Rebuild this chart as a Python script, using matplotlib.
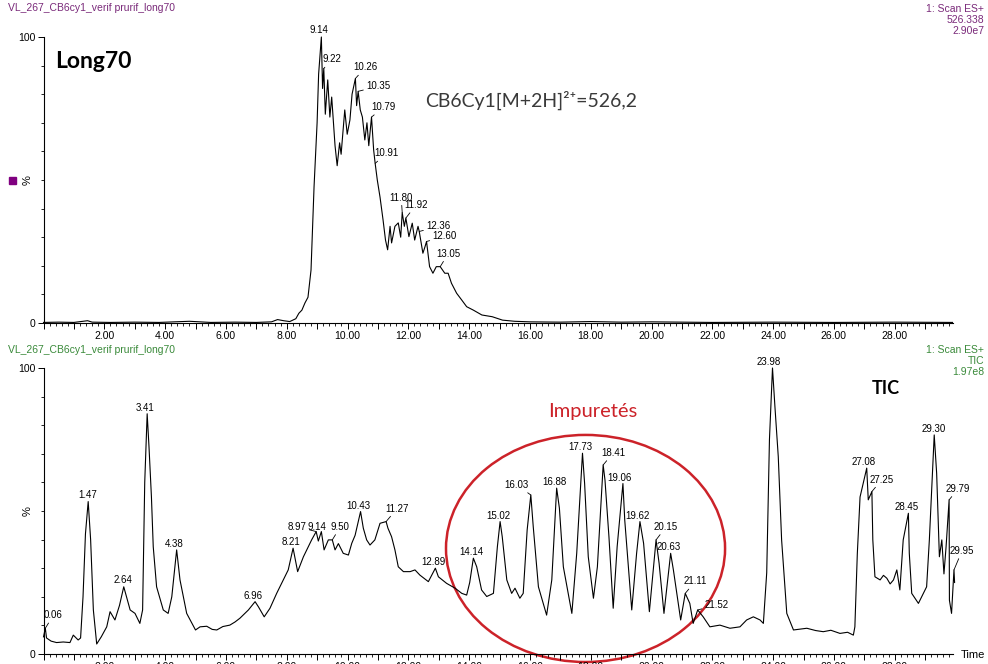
import matplotlib
matplotlib.use('Agg')
import matplotlib.pyplot as plt
from matplotlib.patches import Ellipse, Rectangle
from matplotlib.ticker import MultipleLocator, FixedLocator, FuncFormatter

# ---- data (retention time in min, intensity in %) ----
top_time = [
    0.0, 0.5, 1.0, 1.45, 1.6, 2.2, 3.0, 3.8, 4.8, 5.5,
    6.3, 7.0, 7.5, 7.7, 7.9, 8.1, 8.3, 8.4, 8.5, 8.6,
    8.7, 8.8, 8.9, 9.0, 9.05, 9.14, 9.18, 9.22, 9.27, 9.35,
    9.42, 9.48, 9.59, 9.66, 9.74, 9.79, 9.91, 9.99, 10.08, 10.15,
    10.26, 10.30, 10.35, 10.42, 10.49, 10.57, 10.64, 10.70, 10.79, 10.86,
    10.91, 10.98, 11.07, 11.17, 11.25, 11.32, 11.40, 11.45, 11.56, 11.67,
    11.75, 11.80, 11.87, 11.92, 12.02, 12.13, 12.21, 12.32, 12.36, 12.48,
    12.55, 12.60, 12.70, 12.81, 12.92, 13.05, 13.20, 13.31, 13.42, 13.59,
    13.76, 13.92, 14.14, 14.42, 14.76, 15.1, 15.5, 16.0, 17.0, 18.0,
    19.0, 20.0, 22.0, 24.0, 26.0, 28.0, 29.9]
top_pct = [
    0.2, 0.3, 0.2, 0.8, 0.3, 0.2, 0.3, 0.2, 0.6, 0.2,
    0.3, 0.2, 0.4, 1.2, 0.8, 0.5, 1.5, 3.4, 4.5, 7.0,
    9.0, 18.5, 47.7, 70.0, 87.0, 100.0, 82.0, 89.0, 73.0, 85.0,
    72.0, 79.0, 62.0, 55.0, 63.0, 59.0, 74.5, 66.0, 71.0, 80.0,
    85.5, 76.0, 81.0, 74.5, 72.0, 64.0, 70.0, 62.0, 72.0, 60.5,
    55.8, 50.0, 44.0, 36.0, 29.0, 25.6, 33.8, 28.0, 33.8, 35.0,
    30.0, 38.6, 33.8, 36.7, 30.2, 34.9, 29.0, 33.8, 32.0, 24.4,
    26.7, 28.5, 19.7, 17.4, 19.7, 19.7, 17.4, 17.4, 13.9, 10.4,
    8.0, 5.7, 4.5, 2.8, 2.2, 1.0, 0.6, 0.4, 0.3, 0.5,
    0.3, 0.4, 0.2, 0.3, 0.2, 0.3, 0.2]

tic_time = [
    0.0, 0.06, 0.10, 0.25, 0.43, 0.65, 0.87, 0.98, 1.14, 1.22,
    1.30, 1.38, 1.47, 1.55, 1.64, 1.75, 1.90, 2.08, 2.19, 2.35,
    2.50, 2.64, 2.85, 3.01, 3.17, 3.26, 3.33, 3.41, 3.47, 3.55,
    3.61, 3.72, 3.94, 4.10, 4.22, 4.38, 4.49, 4.71, 5.00, 5.15,
    5.37, 5.55, 5.70, 5.90, 6.13, 6.30, 6.46, 6.74, 6.96, 7.07,
    7.26, 7.45, 7.67, 7.89, 8.05, 8.21, 8.36, 8.55, 8.82, 8.97,
    9.04, 9.14, 9.23, 9.37, 9.50, 9.59, 9.70, 9.86, 10.03, 10.14,
    10.25, 10.43, 10.52, 10.63, 10.74, 10.90, 11.07, 11.27, 11.33, 11.45,
    11.56, 11.67, 11.84, 12.06, 12.22, 12.38, 12.66, 12.89, 12.99, 13.26,
    13.54, 13.76, 13.92, 14.02, 14.14, 14.25, 14.41, 14.58, 14.80, 14.93,
    15.02, 15.09, 15.24, 15.40, 15.51, 15.67, 15.78, 15.91, 16.03, 16.11,
    16.28, 16.55, 16.72, 16.88, 16.97, 17.10, 17.38, 17.54, 17.73, 17.80,
    17.92, 18.09, 18.22, 18.41, 18.47, 18.60, 18.74, 18.87, 19.06, 19.12,
    19.35, 19.51, 19.62, 19.74, 19.93, 20.15, 20.25, 20.41, 20.63, 20.72,
    20.96, 21.11, 21.26, 21.37, 21.52, 21.70, 21.92, 22.25, 22.58, 22.91,
    23.13, 23.35, 23.57, 23.68, 23.79, 23.88, 23.98, 24.06, 24.17, 24.28,
    24.45, 24.67, 25.11, 25.40, 25.65, 25.90, 26.20, 26.45, 26.64, 26.69,
    26.77, 26.86, 27.08, 27.13, 27.25, 27.28, 27.35, 27.52, 27.63, 27.74,
    27.85, 27.96, 28.07, 28.17, 28.28, 28.45, 28.48, 28.56, 28.78, 29.05,
    29.14, 29.30, 29.38, 29.47, 29.55, 29.62, 29.69, 29.79, 29.80, 29.87,
    29.95, 29.97]
tic_pct = [
    6.0, 9.0, 5.6, 4.5, 4.0, 4.2, 4.0, 6.6, 4.9, 5.6,
    20.0, 42.0, 53.3, 40.0, 15.4, 3.5, 6.0, 9.5, 14.8, 11.9,
    17.0, 23.5, 15.4, 14.2, 10.7, 15.4, 60.0, 84.0, 72.5, 55.0,
    37.5, 23.5, 15.4, 14.2, 20.0, 36.4, 25.9, 14.2, 8.4, 9.5,
    9.7, 8.6, 8.4, 9.6, 10.1, 11.2, 12.5, 15.4, 18.3, 16.5,
    13.0, 16.0, 21.2, 25.9, 29.4, 37.0, 28.8, 34.0, 39.9, 42.8,
    39.5, 42.8, 36.4, 39.9, 39.9, 36.4, 38.6, 35.2, 34.6, 38.7,
    41.5, 49.8, 44.0, 39.9, 38.1, 39.9, 45.7, 46.3, 44.0, 41.0,
    36.4, 30.5, 28.8, 28.8, 29.4, 27.6, 25.3, 30.0, 27.0, 24.7,
    23.0, 21.2, 20.6, 25.0, 33.5, 30.5, 22.4, 20.1, 21.2, 37.5,
    46.3, 41.0, 25.9, 21.2, 23.0, 19.5, 21.2, 43.4, 55.6, 44.5,
    23.5, 13.6, 25.9, 58.0, 51.0, 30.5, 14.2, 35.2, 70.2, 59.6,
    34.0, 19.5, 30.5, 66.1, 60.8, 41.0, 16.0, 37.5, 59.6, 46.8,
    15.4, 35.2, 46.3, 38.7, 14.8, 39.9, 31.7, 14.2, 35.2, 29.4,
    11.9, 21.2, 17.7, 10.7, 15.4, 13.0, 9.5, 10.1, 9.0, 9.5,
    11.9, 13.0, 11.9, 10.7, 28.4, 75.0, 100.0, 86.5, 69.0, 39.9,
    14.2, 8.4, 9.0, 8.2, 7.8, 8.3, 7.2, 7.6, 6.6, 9.5,
    35.0, 54.9, 65.0, 53.9, 56.8, 39.9, 27.0, 25.9, 27.5, 26.5,
    24.5, 25.9, 29.4, 22.4, 39.9, 49.2, 35.2, 21.2, 17.7, 23.5,
    39.9, 76.6, 63.2, 34.0, 39.9, 28.0, 37.5, 53.9, 18.8, 14.2,
    29.4, 25.0]

# labelled peaks (retention times printed on the chart)
top_peaks = [9.14, 9.22, 10.26, 10.35, 10.79, 10.91, 11.80, 11.92, 12.36, 12.60, 13.05]
tic_peaks = [0.06, 1.47, 2.64, 3.41, 4.38, 6.96, 8.21, 8.97, 9.14, 9.50, 10.43,
             11.27, 12.89, 14.14, 15.02, 16.03, 16.88, 17.73, 18.41, 19.06, 19.62,
             20.15, 20.63, 21.11, 21.52, 23.98, 27.08, 27.25, 28.45, 29.30, 29.79, 29.95]

# label placement (pixel offsets from peak top)
top_offsets = [(-2, 4), (8, 6), (10, 8), (20, 2), (12, 7), (11, 7), (-1, 12),
               (10, 10), (19, 2), (18, 2), (8, 10)]
tic_offsets = [(8, 10), (-1, 4), (-1, 4), (-2, 3), (-2, 3), (-2, 3), (-2, 3),
               (-19, 2), (-4, 2), (8, 10), (-2, 3), (11, 10), (-2, 3), (-2, 3),
               (-2, 3), (-14, 7), (-2, 3), (-2, 3), (10, 9), (-3, 3), (-2, 3),
               (10, 10), (-2, 3), (10, 9), (19, 2), (-4, 3), (-3, 3), (10, 9),
               (-2, 3), (-1, 3), (9, 8), (8, 16)]

W, H = 988, 664
PURPLE = '#7a2a7a'
GREEN = '#3a8a3a'
FONT = 'Liberation Sans'
XMAX = 29.92
PX_PER_MIN = 30.4

fig = plt.figure(figsize=(W / 100, H / 100), dpi=100)
fig.patch.set_facecolor('white')


def fx(px):
    return px / W


def fy(py):
    return 1 - py / H


def setup(ax):
    ax.set_xlim(0, XMAX)
    ax.set_ylim(0, 100)
    for s in ['top', 'right']:
        ax.spines[s].set_visible(False)
    for s in ['left', 'bottom']:
        ax.spines[s].set_linewidth(0.8)
    ax.yaxis.set_major_locator(FixedLocator([0, 100]))
    ax.yaxis.set_minor_locator(FixedLocator([10, 20, 30, 40, 50, 60, 70, 80, 90]))
    ax.set_yticklabels(['0', '100'])
    ax.xaxis.set_major_locator(MultipleLocator(1))
    ax.xaxis.set_minor_locator(MultipleLocator(0.2))
    ax.xaxis.set_major_formatter(FuncFormatter(
        lambda v, _: f'{v:.2f}' if v > 0 and round(v) % 2 == 0 else ''))
    ax.tick_params(which='major', length=4, width=0.7, pad=2, labelsize=7.5,
                   direction='out')
    ax.tick_params(which='minor', length=2.5, width=0.6, direction='out')
    for lab in ax.get_xticklabels() + ax.get_yticklabels():
        lab.set_fontfamily(FONT)
    ax.text(-0.012, 0.5, '%', rotation=90, transform=ax.transAxes,
            ha='right', va='center', fontsize=8, family=FONT)


def label_peaks(ax, times, heights, peaks, offsets):
    for t, (dx, dy) in zip(peaks, offsets):
        h = heights[times.index(t)]
        lead = abs(dx) > 5 or dy > 6
        ax.annotate(f'{t:.2f}', xy=(t, h), xytext=(dx, dy),
                    textcoords='offset pixels', ha='center', va='baseline',
                    fontsize=7, family=FONT, annotation_clip=False,
                    arrowprops=dict(arrowstyle='-', lw=0.6, color='k',
                                    shrinkA=0, shrinkB=0) if lead else None)


ax_w = XMAX * PX_PER_MIN
ax1 = fig.add_axes([fx(43.5), fy(323), fx(ax_w), 286 / H])
ax2 = fig.add_axes([fx(43.5), fy(654), fx(ax_w), 286 / H])
setup(ax1)
setup(ax2)

ax1.plot(top_time, top_pct, color='k', lw=0.8, clip_on=False)
ax2.plot(tic_time, tic_pct, color='k', lw=0.8, clip_on=False)
label_peaks(ax1, top_time, top_pct, top_peaks, top_offsets)
label_peaks(ax2, tic_time, tic_pct, tic_peaks, tic_offsets)

# circled impurities
ax2.add_patch(Ellipse((17.83, 36.9), 9.18, 79.4, fill=False, ec='#cc2229',
                      lw=1.8, clip_on=False))

# header texts
fig.text(fx(8), fy(8), 'VL_267_CB6cy1_verif prurif_long70', color=PURPLE,
         fontsize=7.5, family=FONT, va='center')
for i, s in enumerate(['1: Scan ES+', '526.338', '2.90e7']):
    fig.text(fx(984), fy(9 + 11 * i), s, color=PURPLE, fontsize=7.5,
             family=FONT, ha='right', va='center')
fig.text(fx(8), fy(350), 'VL_267_CB6cy1_verif prurif_long70', color=GREEN,
         fontsize=7.5, family=FONT, va='center')
for i, s in enumerate(['1: Scan ES+', 'TIC', '1.97e8']):
    fig.text(fx(984), fy(350 + 11 * i), s, color=GREEN, fontsize=7.5,
             family=FONT, ha='right', va='center')
fig.text(fx(961), fy(655), 'Time', fontsize=8, family=FONT, va='center')
fig.add_artist(Rectangle((fx(9), fy(184)), fx(7), 7 / H,
                         transform=fig.transFigure, color='#800080'))

# annotations
fig.text(fx(55), fy(62), 'Long70', fontsize=16.5, fontweight='bold',
         family='Lato', va='center')
fig.text(fx(425), fy(100), 'CB6Cy1[M+2H]²⁺=526,2', fontsize=14,
         family=['Lato', 'DejaVu Sans'], color='#3a3a3a', va='center')
fig.text(fx(593), fy(411), 'Impuretés', fontsize=14.5, family='Lato',
         color='#cc2229', ha='center', va='center')
fig.text(fx(886), fy(388), 'TIC', fontsize=13, fontweight='bold',
         family='Lato', ha='center', va='center')

fig.savefig('out.png', dpi=100)
